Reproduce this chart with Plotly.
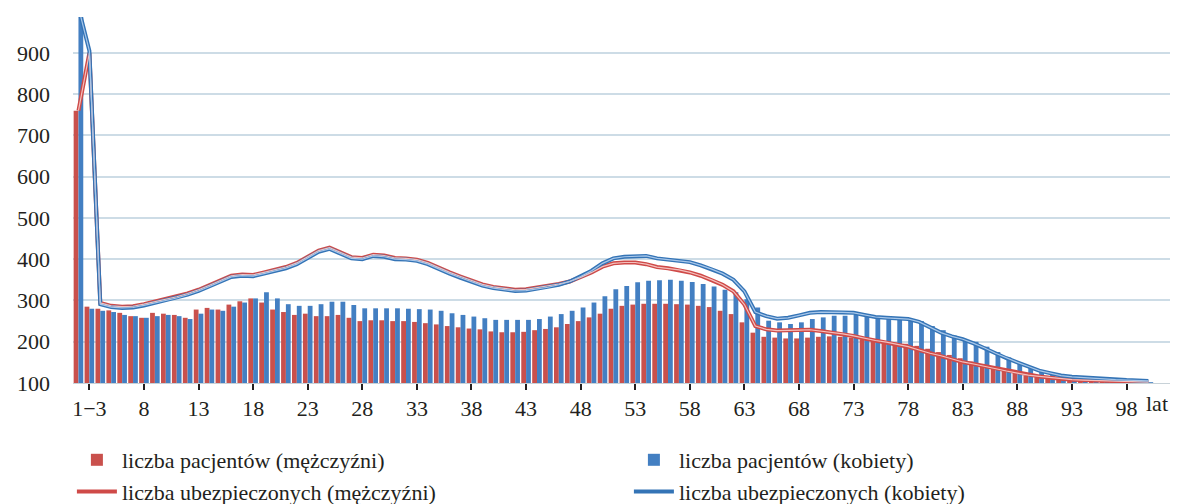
import plotly.graph_objects as go

# ---------------- data ----------------
categories = ["0", "1−3"] + [str(a) for a in range(4, 101)]

tick_labels = ["1−3"] + [str(a) for a in range(8, 99, 5)]

patients_men = [760, 285,
    280, 276, 270, 262, 258, 270, 268, 265, 258, 278,
    282, 278, 290, 298, 305, 295, 278, 272, 265, 268,
    262, 262, 265, 258, 250, 252, 252, 250, 250, 248,
    245, 242, 238, 235, 232, 230, 225, 223, 223, 224,
    228, 231, 235, 243, 250, 259, 268, 280, 287, 290,
    292, 292, 292, 291, 290, 287, 284, 275, 267, 247,
    222, 212, 210, 208, 208, 210, 212, 213, 212, 210,
    206, 203, 200, 198, 195, 190, 183, 175, 168, 160,
    152, 145, 138, 130, 124, 118, 114, 110, 108, 106,
    105, 104, 103, 102, 102, 101, 101]

patients_women = [990, 280,
    275, 272, 265, 262, 258, 262, 265, 262, 255, 268,
    278, 275, 285, 295, 305, 320, 305, 291, 287, 287,
    291, 297, 297, 289, 281, 281, 281, 281, 280, 279,
    278, 275, 269, 265, 261, 257, 253, 253, 253, 253,
    255, 261, 267, 275, 283, 295, 310, 327, 335, 344,
    348, 349, 350, 348, 345, 340, 334, 326, 320, 303,
    283, 251, 247, 243, 247, 255, 259, 263, 263, 265,
    262, 258, 255, 255, 255, 250, 238, 228, 215, 205,
    200, 188, 175, 162, 150, 140, 130, 122, 116, 112,
    110, 108, 106, 105, 104, 103, 102]

insured_men = [760, 900,
    294, 287, 285, 286, 291, 297, 303, 309, 317, 326,
    337, 349, 360, 363, 362, 368, 375, 381, 391, 405,
    421, 428, 417, 405, 403, 411, 409, 403, 402, 399,
    391, 379, 368, 358, 348, 339, 333, 329, 326, 327,
    331, 335, 340, 346, 356, 368, 382, 390, 392, 392,
    388, 381, 378, 374, 368, 360, 350, 338, 322, 290,
    238, 230, 227, 227, 228, 229, 226, 222, 219, 214,
    208, 203, 199, 194, 188, 180, 172, 166, 158, 151,
    146, 140, 134, 129, 124, 119, 116, 113, 110, 108,
    107, 106, 105, 104, 103, 103, 102]

insured_women = [1010, 905,
    291, 284, 282, 283, 288, 294, 300, 306, 314, 323,
    334, 346, 357, 360, 359, 365, 372, 378, 388, 402,
    418, 425, 414, 402, 400, 408, 406, 400, 399, 396,
    388, 376, 365, 355, 345, 336, 330, 326, 323, 324,
    328, 332, 338, 346, 358, 372, 390, 402, 406, 407,
    408, 402, 399, 397, 393, 385, 376, 365, 350, 322,
    272, 262, 256, 258, 264, 270, 272, 272, 271, 270,
    265, 260, 258, 256, 255, 248, 235, 222, 213, 206,
    196, 185, 172, 160, 150, 140, 130, 124, 118, 115,
    113, 111, 110, 108, 107, 106, 105]

names = ["liczba pacjentów (mężczyźni)", "liczba pacjentów (kobiety)",
         "liczba ubezpieczonych (mężczyźni)", "liczba ubezpieczonych (kobiety)"]

# ---------------- style ----------------
RED = "#c9504c"
BLUE = "#437fc2"
RED_LINE = "#cf4a48"
RED_LINE_IN = "#f4c0bd"
BLUE_LINE = "#3474b6"
BLUE_LINE_IN = "#a8c7ea"
FONT = "'Liberation Serif', 'Times New Roman', 'DejaVu Serif', serif"
INK = "#231f20"

fig = go.Figure()
fig.add_trace(go.Bar(x=categories, y=patients_men, name=names[0],
                     marker=dict(color=RED, line=dict(width=0))))
fig.add_trace(go.Bar(x=categories, y=patients_women, name=names[1],
                     marker=dict(color=BLUE, line=dict(width=0))))
fig.add_trace(go.Scatter(x=categories, y=insured_men, name=names[2], mode="lines",
                         line=dict(color=RED_LINE, width=4)))
fig.add_trace(go.Scatter(x=categories, y=insured_women, name=names[3], mode="lines",
                         line=dict(color=BLUE_LINE, width=4)))
fig.add_trace(go.Scatter(x=categories, y=insured_men, mode="lines", showlegend=False,
                         hoverinfo="skip", line=dict(color=RED_LINE_IN, width=1.2)))
fig.add_trace(go.Scatter(x=categories, y=insured_women, mode="lines", showlegend=False,
                         hoverinfo="skip", line=dict(color=BLUE_LINE_IN, width=1.2)))

fig.update_layout(
    width=1186, height=504,
    margin=dict(l=65, r=24, t=9, b=129, autoexpand=False),
    paper_bgcolor="white", plot_bgcolor="white",
    barmode="group", bargap=0.12, bargroupgap=0,
    font=dict(family=FONT, size=22, color=INK),
    showlegend=True,
    legend=dict(orientation="h", x=-0.001, xanchor="left", y=-0.153, yanchor="top",
                entrywidth=502, entrywidthmode="pixels",
                font=dict(family=FONT, size=22, color=INK),
                tracegroupgap=0, itemwidth=40, bgcolor="rgba(0,0,0,0)"),
    xaxis=dict(type="category", categoryorder="array", categoryarray=categories,
               tickmode="array", tickvals=tick_labels, ticktext=tick_labels,
               ticks="outside", ticklen=6, tickwidth=2, tickcolor=INK,
               showline=True, linecolor="#c8d2d8", linewidth=1,
               showgrid=False, tickangle=0,
               tickfont=dict(family=FONT, size=22, color=INK)),
    yaxis=dict(range=[100, 987], tickmode="linear", tick0=100, dtick=100,
               showgrid=True, gridcolor="#cddce6", gridwidth=2,
               zeroline=False, showline=False, ticks="",
               ticklabelstandoff=22,
               tickfont=dict(family=FONT, size=22, color=INK)),
)

fig.add_annotation(text="lat", x=97.6, xref="x", xanchor="left",
                   y=-0.055, yref="paper", yanchor="middle", showarrow=False,
                   font=dict(family=FONT, size=22, color=INK))

fig.write_html("out.html")
